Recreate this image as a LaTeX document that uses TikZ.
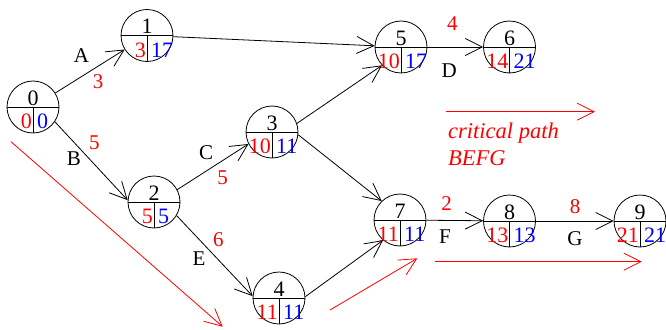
\documentclass[tikz,border=0pt]{standalone}
\usepackage{fontspec}
\setmainfont{Liberation Serif}
\usetikzlibrary{arrows.meta}
\tikzset{
  ev/.style={circle,draw,minimum size=52pt,inner sep=0pt,line width=0.8pt},
  act/.style={line width=0.8pt,-{Straight Barb[length=17pt,width=17pt]}},
  crit/.style={red,line width=0.8pt,-{Straight Barb[length=17pt,width=17pt]}},
  num/.style={font=\fontsize{22}{25}\selectfont,inner sep=0pt},
  lbl/.style={font=\fontsize{21}{24}\selectfont,inner sep=0pt},
  dur/.style={lbl,text=red},
  crtext/.style={font=\fontsize{22.5}{26}\selectfont\itshape,text=red,inner sep=0pt,anchor=base west},
}
\newcommand\evt[5]{%
  \node[ev] (#1) at (#2) {};
  \draw[line width=0.8pt] (#1.west) -- (#1.east) (#1.center) -- (#1.south);
  \node[num,anchor=center] (#1t) at ([yshift=9pt]#1.center) {#3};
  \node[num,anchor=east,text=red] (#1e) at ([xshift=-1pt,yshift=-14.5pt]#1.center) {#4};
  \node[num,anchor=west,text=blue] (#1l) at ([xshift=4pt,yshift=-14.5pt]#1.center) {#5};
}
\begin{document}
\begin{tikzpicture}[x=1pt,y=-1pt]
\useasboundingbox (0,0) rectangle (666,329);
\evt{n0}{33,107}{0}{0}{0}
\evt{n1}{147,35.5}{1}{3}{17}
\evt{n2}{154,202}{2}{5}{5}
\evt{n3}{272,132}{3}{10}{11}
\evt{n4}{279,298}{4}{11}{11}
\evt{n5}{401,47}{5}{10}{17}
\evt{n6}{509.5,47}{6}{14}{21}
\evt{n7}{400,220}{7}{11}{11}
\evt{n8}{509.5,221}{8}{13}{13}
\evt{n9}{640,221}{9}{21}{21}

\draw[act] (n0) -- (n1);
\draw[act] (n0.-34) -- (n2.176);
\draw[act] (n1) -- (n5);
\draw[act] (n2.28) -- (n3.207);
\draw[act] (n2.-31) -- (n4.176);
\draw[act] (n3.19) -- (n5.224);
\draw[act] (n3.-6) -- (n7.134);
\draw[act] (n4.3) -- (n7.230);
\draw[act] (n5) -- (n6);
\draw[act] (n7) -- (n8);
\draw[act] (n8) -- (n9);

\node[lbl] (lA) at (81.5,56) {A};
\node[dur] (dA) at (98,81.7) {3};
\node[dur] (dB) at (94.3,142.7) {5};
\node[lbl] (lB) at (74,159) {B};
\node[lbl] (lC) at (206,152.5) {C};
\node[dur] (dC) at (222.7,177.3) {5};
\node[dur] (dE) at (218.3,240) {6};
\node[lbl] (lE) at (199,258.3) {E};
\node[dur] (dD) at (452.3,23.3) {4};
\node[lbl] (lD) at (449.3,70.7) {D};
\node[dur] (dF) at (446.7,203.3) {2};
\node[lbl] (lF) at (445,236.7) {F};
\node[dur] (dG) at (575,206.7) {8};
\node[lbl] (lG) at (575,239) {G};

\coordinate (r1s) at (11,141.7);
\coordinate (r1e) at (222.7,326.7);
\coordinate (r2s) at (330,310);
\coordinate (r2e) at (417.3,258.3);
\coordinate (r3s) at (435,261.7);
\coordinate (r3e) at (641.7,261.7);
\coordinate (r4s) at (446,111.7);
\coordinate (r4e) at (595,111.7);
\draw[crit] (r1s) -- (r1e);
\draw[crit] (r2s) -- (r2e);
\draw[crit] (r3s) -- (r3e);
\draw[crit] (r4s) -- (r4e);

\node[crtext] (ct1) at (448,138.3) {critical path};
\node[crtext] (ct2) at (448,165) {BEFG};
\end{tikzpicture}
\end{document}
